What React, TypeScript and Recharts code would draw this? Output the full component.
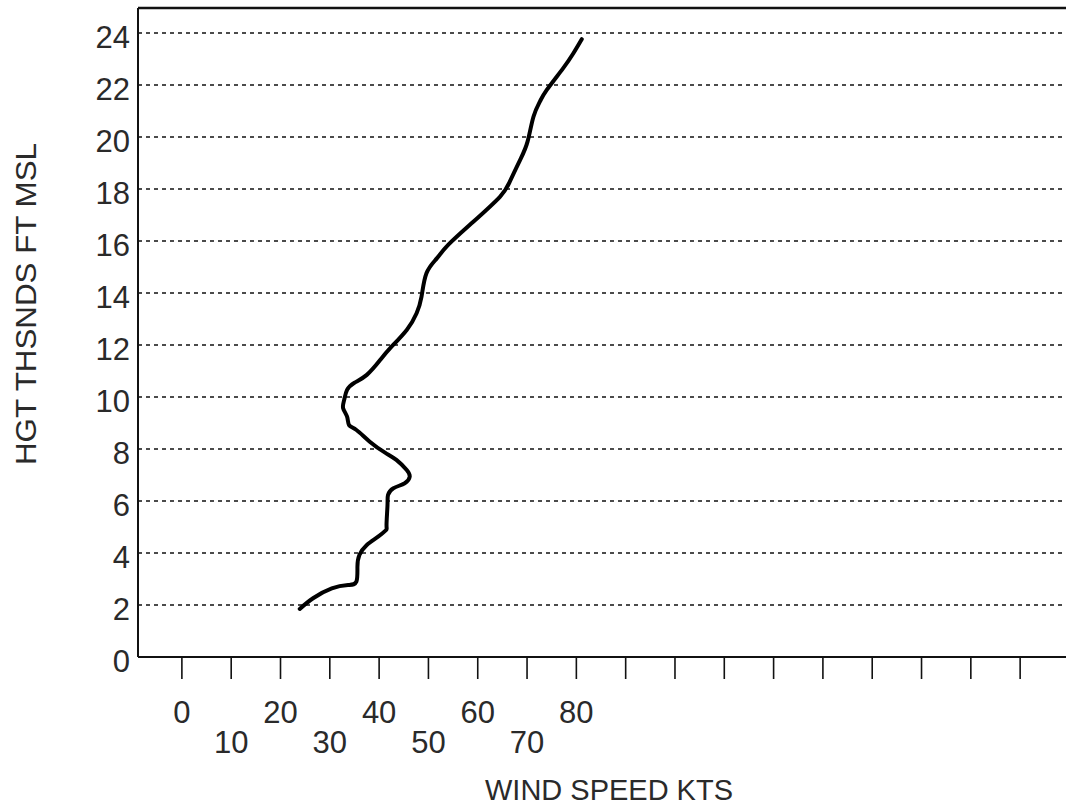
import React from 'react';
import { LineChart, Line, XAxis, YAxis, CartesianGrid, ReferenceLine } from 'recharts';

const speedKts = [
  23.9, 26.6, 30.4, 33.7, 35.4, 35.6, 36.0, 37.5, 39.8, 41.4, 41.5, 41.7, 41.8, 42.9, 45.2, 46.2,
  45.6, 43.5, 41.2, 38.1, 35.4, 33.9, 33.5, 32.7, 32.9, 33.5, 35.0, 37.5, 40.2, 42.2, 45.6, 47.6,
  48.6, 49.6, 51.7, 54.0, 59.1, 64.5, 66.5, 68.6, 70.1, 71.3, 72.6, 74.0, 77.3, 79.4, 81.1,
];
const heightKft = [
  1.85, 2.26, 2.64, 2.77, 2.9, 3.47, 3.92, 4.31, 4.63, 4.88, 5.08, 5.85, 6.23, 6.49, 6.68, 6.93,
  7.19, 7.58, 7.86, 8.28, 8.73, 8.92, 9.24, 9.57, 9.88, 10.27, 10.55, 10.85, 11.42, 11.87, 12.58, 13.22,
  13.86, 14.76, 15.33, 15.85, 16.74, 17.7, 18.28, 19.12, 19.82, 20.78, 21.36, 21.81, 22.64, 23.22, 23.76,
];
const xTicks = [0, 10, 20, 30, 40, 50, 60, 70, 80, 90, 100, 110, 120, 130, 140, 150, 160, 170];
const xLabeled = [0, 10, 20, 30, 40, 50, 60, 70, 80];
const yTicks = [0, 2, 4, 6, 8, 10, 12, 14, 16, 18, 20, 22, 24];
const yTop = 24.96;
const xTitle = 'WIND SPEED KTS';
const yTitle = 'HGT THSNDS FT MSL';

const data = speedKts.map((s, i) => ({ speed: s, height: heightKft[i] }));

const FONT = '"Liberation Sans", Arial, sans-serif';
const INK = '#111';
const TEXT_INK = '#2a2a2a';

const XTick = (props: any) => {
  const { x, y, payload } = props;
  const v = payload.value;
  if (!xLabeled.includes(v)) return null;
  const lower = (v / 10) % 2 === 1;
  return (
    <text x={x} y={y + (lower ? 72 : 42)} textAnchor="middle" fontFamily={FONT} fontSize={31} fill={TEXT_INK}>
      {v}
    </text>
  );
};

const YTick = (props: any) => {
  const { x, y, payload } = props;
  return (
    <text x={x} y={y + 15} textAnchor="end" fontFamily={FONT} fontSize={31} fill={TEXT_INK}>
      {payload.value}
    </text>
  );
};

export default function App() {
  return (
    <div style={{ position: 'absolute', left: 0, top: 0, width: 1066, height: 806, background: '#fff' }}>
      <LineChart width={1066} height={806} data={data} margin={{ top: 8, right: 0, left: 0, bottom: 0 }}>
        <CartesianGrid vertical={false} horizontalValues={yTicks.slice(1)} stroke={INK} strokeWidth={1.6} strokeDasharray="4 4" />
        <XAxis
          type="number"
          dataKey="speed"
          domain={[-8.9, 179.3]}
          allowDataOverflow
          ticks={xTicks}
          interval={0}
          height={149}
          tickSize={22}
          tickLine={{ stroke: INK, strokeWidth: 1.6 }}
          axisLine={{ stroke: INK, strokeWidth: 2 }}
          tick={<XTick />}
          label={{
            content: () => (
              <text x={609} y={800} textAnchor="middle" fontFamily={FONT} fontSize={29} fill={TEXT_INK}
                textLength={248} lengthAdjust="spacingAndGlyphs">
                {xTitle}
              </text>
            ),
          }}
        />
        <YAxis
          type="number"
          domain={[0, yTop]}
          allowDataOverflow
          ticks={yTicks}
          interval={0}
          width={138}
          tickSize={0}
          tickMargin={8}
          tickLine={false}
          axisLine={{ stroke: INK, strokeWidth: 2 }}
          tick={<YTick />}
          label={{
            content: () => (
              <text x={36} y={304} transform="rotate(-90 36 304)" textAnchor="middle" fontFamily={FONT}
                fontSize={29} fill={TEXT_INK} textLength={322} lengthAdjust="spacingAndGlyphs">
                {yTitle}
              </text>
            ),
          }}
        />
        <ReferenceLine y={yTop} stroke={INK} strokeWidth={2.5} />
        <Line
          type="natural"
          dataKey="height"
          stroke="#000"
          strokeWidth={4}
          dot={false}
          isAnimationActive={false}
          strokeLinejoin="round"
          strokeLinecap="round"
        />
      </LineChart>
    </div>
  );
}
